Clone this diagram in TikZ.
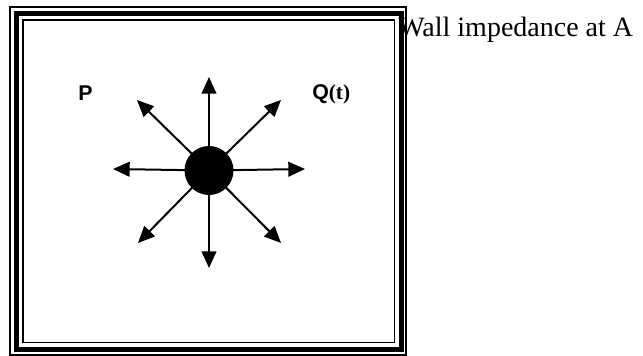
\documentclass[tikz,border=0pt]{standalone}
\usepackage{fontspec}
\setmainfont{Liberation Serif}
\setsansfont{Liberation Sans}
\usetikzlibrary{arrows.meta}

\tikzset{
  ray/.style={line width=1.5pt,-{Triangle[length=12.5pt,width=11pt]}},
  thinwall/.style={line width=1.1pt},
  thickwall/.style={line width=3.8pt},
  labeltext/.style={anchor=base west,inner sep=0pt,font=\sffamily\bfseries\fontsize{16}{18}\selectfont},
}

\begin{document}
\begin{tikzpicture}[x=0.75pt,y=-0.75pt]
        \useasboundingbox (0,0) rectangle (643,356);

        % Text beside the box (the frame runs over its first letter)
        \node[anchor=base west,inner sep=0pt,font=\fontsize{21}{23}\selectfont] (wall) at (398,37) {Wall impedance at A};

        % Triple wall line round the room
        \draw[thinwall] (10,6.8) rectangle (406,355);
        \draw[thickwall] (16.5,13.5) rectangle (401.3,349.3);
        \draw[thinwall] (23,20) rectangle (394.7,342.5);

        % Point source in the middle
        \node[circle,fill=black,minimum size=36.75pt,inner sep=0pt] (source) at (209,170.5) {};

        % Tips of the rays
        \coordinate (up) at (209,77);
        \coordinate (down) at (209,268);
        \coordinate (left) at (113,169);
        \coordinate (right) at (305,169);
        \coordinate (upleft) at (137,100);
        \coordinate (upright) at (281,100);
        \coordinate (downleft) at (138,243);
        \coordinate (downright) at (281,243);

        % Rays going out from the source
        \draw[ray] (source.center) -- (up);
        \draw[ray] (source.center) -- (down);
        \draw[ray] (source.center) -- (left);
        \draw[ray] (source.center) -- (right);
        \draw[ray] (source.center) -- (upleft);
        \draw[ray] (source.center) -- (upright);
        \draw[ray] (source.center) -- (downleft);
        \draw[ray] (source.center) -- (downright);

        % Labels
        \node[labeltext] (labp) at (78,101) {P};
        \node[labeltext] (labq) at (312,100) {Q\textrm{(t)}};
    \end{tikzpicture}
\end{document}
